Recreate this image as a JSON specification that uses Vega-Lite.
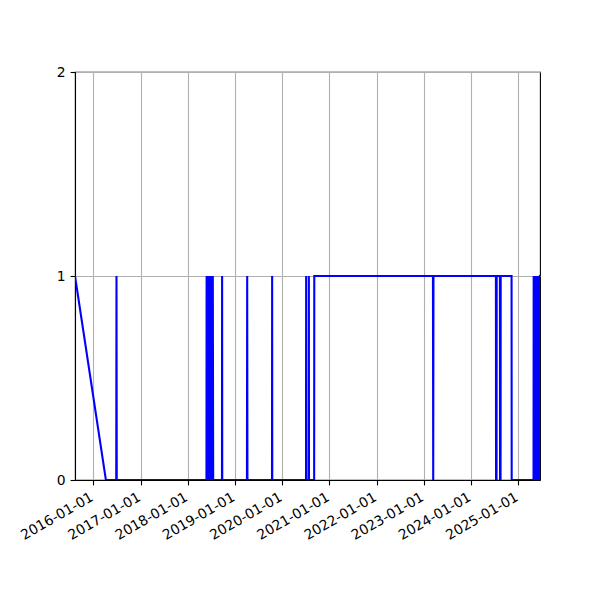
{
  "$schema": "https://vega.github.io/schema/vega-lite/v6.json",
  "width": 465,
  "height": 408,
  "autosize": "none",
  "padding": {"left": 75, "top": 72, "right": 60, "bottom": 120},
  "background": "white",
  "config": {
    "view": {"stroke": "black", "strokeWidth": 1.1},
    "font": "DejaVu Sans",
    "axis": {
      "domainColor": "black",
      "domainWidth": 1.1,
      "tickColor": "black",
      "tickWidth": 1.1,
      "tickSize": 4.9,
      "labelPadding": 4.9,
      "labelFont": "DejaVu Sans",
      "labelFontSize": 13.9,
      "labelColor": "black",
      "gridColor": "#b0b0b0",
      "gridWidth": 1.1,
      "title": null
    }
  },
  "data": {
    "values": [
      {"date": "2015-08-13", "value": 1},
      {"date": "2016-04-08", "value": 0},
      {"date": "2016-06-27", "value": 0},
      {"date": "2016-06-29", "value": 1},
      {"date": "2016-07-01", "value": 0},
      {"date": "2018-05-26", "value": 0},
      {"date": "2018-05-27", "value": 1},
      {"date": "2018-05-29", "value": 0},
      {"date": "2018-06-07", "value": 0},
      {"date": "2018-06-08", "value": 1},
      {"date": "2018-06-11", "value": 0},
      {"date": "2018-06-14", "value": 1},
      {"date": "2018-06-17", "value": 0},
      {"date": "2018-06-20", "value": 1},
      {"date": "2018-06-23", "value": 0},
      {"date": "2018-06-26", "value": 1},
      {"date": "2018-06-29", "value": 0},
      {"date": "2018-07-02", "value": 1},
      {"date": "2018-07-05", "value": 0},
      {"date": "2018-07-08", "value": 1},
      {"date": "2018-07-11", "value": 0},
      {"date": "2018-07-14", "value": 1},
      {"date": "2018-07-17", "value": 0},
      {"date": "2018-09-23", "value": 0},
      {"date": "2018-09-24", "value": 1},
      {"date": "2018-09-25", "value": 0},
      {"date": "2019-04-04", "value": 0},
      {"date": "2019-04-06", "value": 1},
      {"date": "2019-04-08", "value": 0},
      {"date": "2019-10-15", "value": 0},
      {"date": "2019-10-16", "value": 1},
      {"date": "2019-10-17", "value": 0},
      {"date": "2020-07-04", "value": 0},
      {"date": "2020-07-05", "value": 1},
      {"date": "2020-07-06", "value": 0},
      {"date": "2020-07-25", "value": 0},
      {"date": "2020-07-26", "value": 1},
      {"date": "2020-07-27", "value": 0},
      {"date": "2020-09-05", "value": 0},
      {"date": "2020-09-06", "value": 1},
      {"date": "2023-03-13", "value": 1},
      {"date": "2023-03-15", "value": 0},
      {"date": "2023-03-17", "value": 1},
      {"date": "2024-07-12", "value": 1},
      {"date": "2024-07-13", "value": 0},
      {"date": "2024-07-17", "value": 0},
      {"date": "2024-07-18", "value": 1},
      {"date": "2024-08-12", "value": 1},
      {"date": "2024-08-13", "value": 0},
      {"date": "2024-08-17", "value": 0},
      {"date": "2024-08-18", "value": 1},
      {"date": "2024-11-10", "value": 1},
      {"date": "2024-11-11", "value": 0},
      {"date": "2025-04-29", "value": 0},
      {"date": "2025-04-30", "value": 1},
      {"date": "2025-05-03", "value": 0},
      {"date": "2025-05-06", "value": 1},
      {"date": "2025-05-09", "value": 0},
      {"date": "2025-05-12", "value": 1},
      {"date": "2025-05-15", "value": 0},
      {"date": "2025-05-18", "value": 1},
      {"date": "2025-05-21", "value": 0},
      {"date": "2025-05-24", "value": 1},
      {"date": "2025-05-27", "value": 0},
      {"date": "2025-05-30", "value": 1},
      {"date": "2025-06-02", "value": 0},
      {"date": "2025-06-05", "value": 1},
      {"date": "2025-06-08", "value": 0},
      {"date": "2025-06-11", "value": 1},
      {"date": "2025-06-14", "value": 0},
      {"date": "2025-06-17", "value": 1},
      {"date": "2025-06-18", "value": 1}
    ]
  },
  "mark": {"type": "line", "color": "#0000ff", "strokeWidth": 2.08, "clip": true},
  "encoding": {
    "x": {
      "field": "date",
      "type": "temporal",
      "scale": {
        "type": "utc",
        "domain": [
          {"year": 2015, "month": 8, "date": 13, "utc": true},
          {"year": 2025, "month": 6, "date": 18, "utc": true}
        ],
        "nice": false
      },
      "axis": {
        "values": [
          {"year": 2016, "month": 1, "date": 1, "utc": true},
          {"year": 2017, "month": 1, "date": 1, "utc": true},
          {"year": 2018, "month": 1, "date": 1, "utc": true},
          {"year": 2019, "month": 1, "date": 1, "utc": true},
          {"year": 2020, "month": 1, "date": 1, "utc": true},
          {"year": 2021, "month": 1, "date": 1, "utc": true},
          {"year": 2022, "month": 1, "date": 1, "utc": true},
          {"year": 2023, "month": 1, "date": 1, "utc": true},
          {"year": 2024, "month": 1, "date": 1, "utc": true},
          {"year": 2025, "month": 1, "date": 1, "utc": true}
        ],
        "format": "%Y-%m-%d",
        "labelAngle": -30,
        "labelAlign": "right",
        "labelBaseline": "top",
        "labelOffset": -5,
        "labelOverlap": false,
        "labelFlush": false,
        "grid": true
      }
    },
    "y": {
      "field": "value",
      "type": "quantitative",
      "scale": {"domain": [0, 2], "nice": false, "zero": false},
      "axis": {
        "values": [0, 1, 2],
        "labelExpr": "format(datum.value, 'd')",
        "labelOverlap": false,
        "grid": true,
        "labelFlush": false
      }
    }
  }
}
